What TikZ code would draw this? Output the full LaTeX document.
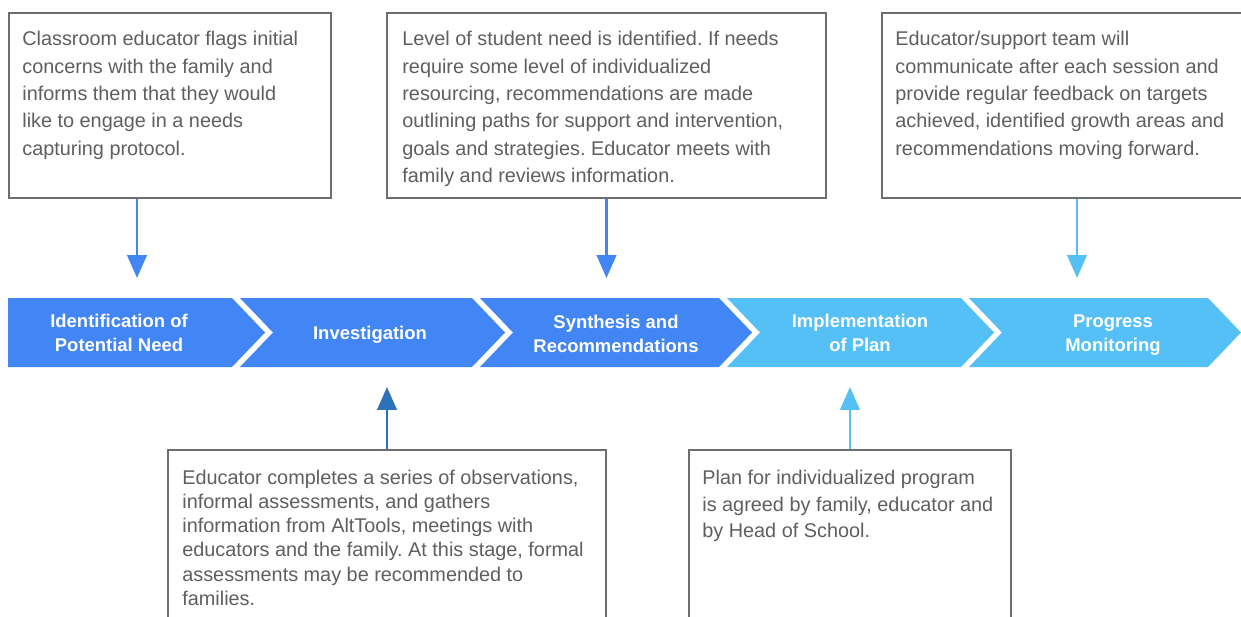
\documentclass[tikz,border=0pt]{standalone}
\usepackage{fontspec}
\setmainfont{Liberation Sans}
\usetikzlibrary{arrows.meta,positioning}
\frenchspacing
\definecolor{dkblue}{HTML}{4285F4}
\definecolor{ltblue}{HTML}{55C0F5}
\definecolor{navy}{HTML}{2B72BB}
\definecolor{txtgray}{HTML}{5F5F5F}
\definecolor{linegray}{HTML}{6E6E6E}
\tikzset{box/.style={draw=linegray,line width=1.1pt,fill=white,inner sep=0pt}}
\tikzset{note/.style={anchor=north west,inner sep=0pt,align=left,text=txtgray,
                      font=\fontsize{11.3}{15.6}\selectfont}}
\tikzset{stage/.style={text=white,align=center,inner sep=0pt,
                       font=\bfseries\fontsize{10.5}{13.6}\selectfont}}
\tikzset{link/.style={line width=1.6pt,-{Triangle[width=11pt,length=13pt]}}}

\begin{document}
\begin{tikzpicture}[x=0.02cm,y=-0.02cm]

    \useasboundingbox (0,0) rectangle (1241,616);
    \clip (0,0) rectangle (1241,616);

    % chevrons
    \fill[dkblue] (8,298) -- (232,298) -- (265,332.5) -- (232,367) -- (8,367) -- cycle;
    \foreach \a/\b/\clr in {240/472/dkblue,480/719/dkblue,727/961/ltblue,969/1208/ltblue}{
        \fill[\clr] (\a,298) -- (\b,298) -- (\b+33,332.5) -- (\b,367) -- (\a,367) -- (\a+33,332.5) -- cycle;
    }

    \node[stage] (s1) at (119,333) {Identification of\\Potential Need};
    \node[stage] (s2) at (370,335) {Investigation};
    \node[stage] (s3) at (616,334) {Synthesis and\\Recommendations};
    \node[stage] (s4) at (860,333) {Implementation\\of Plan};
    \node[stage] (s5) at (1113,335) {Progress\\Monitoring};

    % boxes
    \node[box,minimum width=6.44cm,minimum height=3.7cm] (box1) at (170,105.5) {};
    \node[box,minimum width=8.78cm,minimum height=3.7cm] (box2) at (606.5,105.5) {};
    \node[box,minimum width=7.8cm,minimum height=3.7cm] (box3) at (1077,105.5) {};
    \node[box,minimum width=8.76cm,minimum height=4cm] (box4) at (387,550) {};
    \node[box,minimum width=6.44cm,minimum height=4cm] (box5) at (850,550) {};

    \node[note] (n1) at (22,31) {Classroom educator flags initial\\concerns with the family and\\informs them that they would\\like to engage in a needs\\capturing protocol.};
    \node[note] (n2) at (402,31) {Level of student need is identified. If needs\\require some level of individualized\\resourcing, recommendations are made\\outlining paths for support and intervention,\\goals and strategies. Educator meets with\\family and reviews information.};
    \node[note] (n3) at (895,31) {Educator/support team will\\communicate after each session and\\provide regular feedback on targets\\achieved, identified growth areas and\\recommendations moving forward.};
    \node[note,font=\fontsize{11.3}{13.7}\selectfont] (n4) at (182,470) {Educator completes a series of observations,\\informal assessments, and gathers\\information from AltTools, meetings with\\educators and the family. At this stage, formal\\assessments may be recommended to\\families.};
    \node[note,font=\fontsize{11.3}{15}\selectfont] (n5) at (702,470) {Plan for individualized program\\is agreed by family, educator and\\by Head of School.};

    % arrows
    \coordinate (t1) at (137,278);
    \coordinate (t2) at (606.5,278);
    \coordinate (t3) at (1077,278);
    \coordinate (t4) at (387,387);
    \coordinate (t5) at (850,387);
    \draw[link,dkblue] (box1.south -| t1) -- (t1);
    \draw[link,dkblue] (box2.south) -- (t2);
    \draw[link,ltblue] (box3.south) -- (t3);
    \draw[link,navy] (box4.north) -- (t4);
    \draw[link,ltblue] (box5.north) -- (t5);

\end{tikzpicture}
\end{document}
